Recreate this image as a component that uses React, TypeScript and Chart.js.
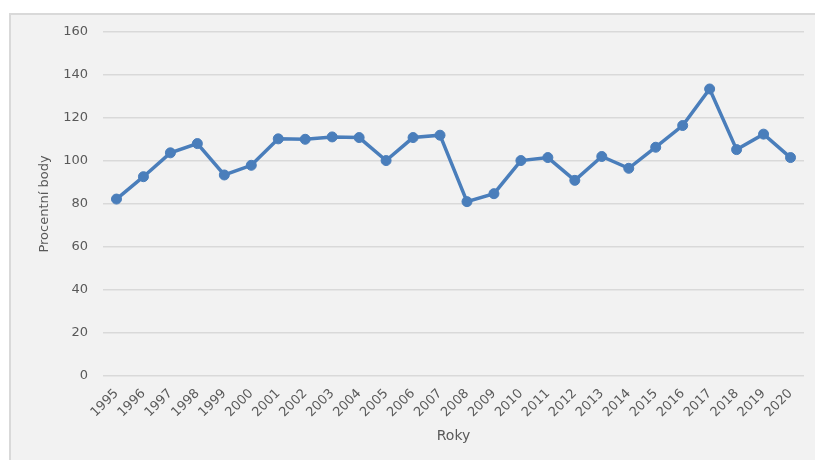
import React, { useEffect, useRef } from "react";
import { Chart, registerables } from "chart.js";

Chart.register(...registerables);

const years: string[] = [
  "1995", "1996", "1997", "1998", "1999", "2000", "2001", "2002", "2003",
  "2004", "2005", "2006", "2007", "2008", "2009", "2010", "2011", "2012",
  "2013", "2014", "2015", "2016", "2017", "2018", "2019", "2020",
];

const values: number[] = [
  82.3, 92.7, 103.8, 108.1, 93.5, 98.0, 110.3, 110.1, 111.2,
  110.9, 100.2, 110.9, 112.0, 81.1, 84.8, 100.2, 101.6, 91.0,
  102.1, 96.6, 106.4, 116.5, 133.5, 105.3, 112.5, 101.6,
];

const yMin = 0;
const yMax = 160;
const yStep = 20;

const yTitle = "Procentní body";
const xTitle = "Roky";

const TEXT = "#595959";
const GRID = "#d9d9d9";
const LINE = "#4a7ebb";
const FONT = "'DejaVu Sans', sans-serif";

// Light panel behind the chart with a thin frame on its top and left edges
const panel = {
  id: "panel",
  beforeDraw(chart: Chart) {
    const { ctx, width, height } = chart;
    ctx.save();
    ctx.fillStyle = "#ffffff";
    ctx.fillRect(0, 0, width, height);
    ctx.fillStyle = "#f2f2f2";
    ctx.fillRect(9, 13, width - 9, height - 13);
    ctx.strokeStyle = "#d9d9d9";
    ctx.lineWidth = 2;
    ctx.beginPath();
    ctx.moveTo(10, height);
    ctx.lineTo(10, 14);
    ctx.lineTo(width, 14);
    ctx.stroke();
    ctx.restore();
  },
};

export default function App() {
  const ref = useRef<HTMLCanvasElement | null>(null);

  useEffect(() => {
    if (!ref.current) return;
    const chart = new Chart(ref.current, {
      type: "line",
      data: {
        labels: years,
        datasets: [
          {
            data: values,
            borderColor: LINE,
            backgroundColor: LINE,
            borderWidth: 3.5,
            pointRadius: 5,
            pointBackgroundColor: LINE,
            pointBorderColor: LINE,
            pointBorderWidth: 1,
            tension: 0,
          },
        ],
      },
      options: {
        responsive: false,
        animation: false,
        layout: { padding: { top: 32, right: 11, bottom: 0, left: 0 } },
        plugins: {
          legend: { display: false },
          tooltip: { enabled: false },
        },
        scales: {
          x: {
            offset: true,
            grid: { display: false, drawTicks: false },
            border: { display: false },
            ticks: {
              color: TEXT,
              font: { family: FONT, size: 13 },
              minRotation: 45,
              maxRotation: 45,
              autoSkip: false,
              padding: 10,
            },
            title: {
              display: true,
              text: xTitle,
              color: TEXT,
              font: { family: FONT, size: 14 },
              padding: { top: 0, bottom: 15 },
            },
            afterFit(scale: any) {
              scale.height = 84;
            },
          },
          y: {
            min: yMin,
            max: yMax,
            grid: { color: GRID, lineWidth: 1.5, drawTicks: false },
            border: { display: false },
            ticks: {
              stepSize: yStep,
              color: TEXT,
              font: { family: FONT, size: 13 },
              padding: 15,
            },
            title: {
              display: true,
              text: yTitle,
              color: TEXT,
              font: { family: FONT, size: 13 },
              padding: { top: 37, bottom: 0 },
            },
            afterFit(scale: any) {
              scale.width = 103;
            },
          },
        },
      },
      plugins: [panel],
    });
    return () => chart.destroy();
  }, []);

  return (
    <div style={{ position: "fixed", left: 0, top: 0, width: 815, height: 460 }}>
      <canvas ref={ref} width={815} height={460} style={{ width: 815, height: 460, display: "block" }} />
    </div>
  );
}
